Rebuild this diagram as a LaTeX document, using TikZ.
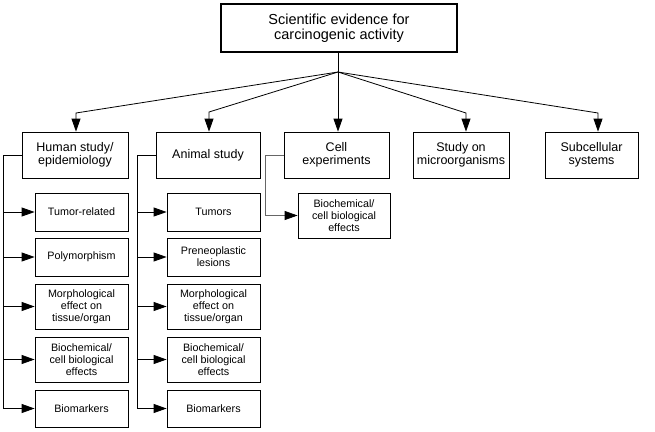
\documentclass[tikz,border=0pt]{standalone}
\usepackage{fontspec}
\setmainfont{Liberation Sans}
\usetikzlibrary{arrows.meta,calc}
\begin{document}
\begin{tikzpicture}[x=1pt,y=-1pt,
  arr/.style={-{Triangle[length=13pt,width=9pt]}},
  topbox/.style={draw,line width=1.6pt,minimum width=236pt,minimum height=48pt,align=center,inner sep=0pt,font=\fontsize{14.5}{15}\selectfont},
  midbox/.style={draw,line width=0.8pt,minimum height=46pt,align=center,inner sep=0pt,font=\fontsize{12.5}{13.5}\selectfont},
  subbox/.style={draw,line width=0.8pt,minimum width=93pt,align=center,inner sep=0pt,font=\fontsize{10.75}{12}\selectfont},
  conn/.style={line width=0.8pt}]
\useasboundingbox (0,0) rectangle (655,431);
\node[topbox] (T) at (339,28) {Scientific evidence for\\carcinogenic activity};
\coordinate (J) at (338,72);
\draw[conn] (T.south -| J) -- (J);
% level 2
\node[midbox,minimum width=106pt] (H) at (75,155) {Human study/\\epidemiology};
\node[midbox,minimum width=104pt] (A) at (208,155) {Animal study};
\node[midbox,minimum width=105pt] (C) at (336.5,155) {Cell\\experiments};
\node[midbox,minimum width=96pt] (M) at (461,155) {Study on\\microorganisms};
\node[midbox,minimum width=93pt] (S) at (591.5,155) {Subcellular\\systems};
\coordinate (jh) at (76,113);
\coordinate (ja) at (209,112);
\coordinate (jm) at (466,113);
\coordinate (js) at (598,113);
\draw[conn,arr] (J) -- (jh) -- (jh |- H.north);
\draw[conn,arr] (J) -- (ja) -- (ja |- A.north);
\draw[conn,arr] (J) -- (J |- C.north);
\draw[conn,arr] (J) -- (jm) -- (jm |- M.north);
\draw[conn,arr] (J) -- (js) -- (js |- S.north);
% human sub boxes
\node[subbox,minimum height=38pt] (h1) at (81.5,212) {Tumor-related};
\node[subbox,minimum height=38pt] (h2) at (81.5,257) {Polymorphism};
\node[subbox,minimum height=45pt] (h3) at (81.5,306.5) {Morphological\\effect on\\tissue/organ};
\node[subbox,minimum height=45pt] (h4) at (81.5,359.5) {Biochemical/\\cell biological\\effects};
\node[subbox,minimum height=37pt] (h5) at (81.5,408.5) {Biomarkers};
\coordinate (hl) at (3.5,155);
\draw[conn] (H.west) -- (hl) -- (hl |- h5.west);
\foreach \k in {1,...,5} \draw[conn,arr] (hl |- h\k.west) -- (h\k.west);
% animal sub boxes
\node[subbox,minimum height=38pt] (a1) at (213.5,212) {Tumors};
\node[subbox,minimum height=38pt] (a2) at (213.5,257) {Preneoplastic\\lesions};
\node[subbox,minimum height=45pt] (a3) at (213.5,306.5) {Morphological\\effect on\\tissue/organ};
\node[subbox,minimum height=45pt] (a4) at (213.5,359.5) {Biochemical/\\cell biological\\effects};
\node[subbox,minimum height=37pt] (a5) at (213.5,408.5) {Biomarkers};
\coordinate (al) at (137,155);
\draw[conn] (A.west) -- (al) -- (al |- a5.west);
\foreach \k in {1,...,5} \draw[conn,arr] (al |- a\k.west) -- (a\k.west);
% cell sub box
\node[subbox,minimum width=92pt,minimum height=45pt] (c1) at (344,215.5) {Biochemical/\\cell biological\\effects};
\coordinate (cl) at (265,155);
\draw[conn,draw=black!60,-{Triangle[length=13pt,width=9pt,color=black]}] (C.west) -- (cl) |- (c1.west);
\end{tikzpicture}
\end{document}
